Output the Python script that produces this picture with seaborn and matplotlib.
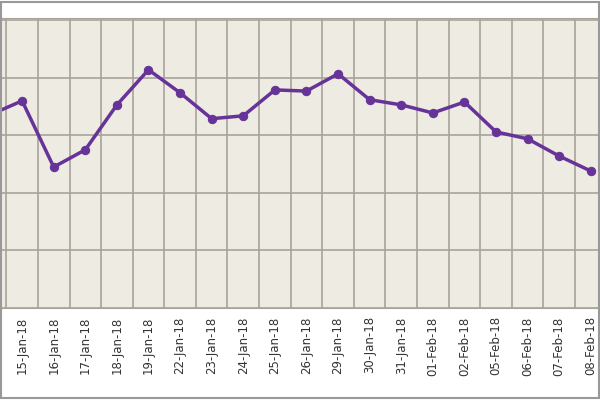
import matplotlib
matplotlib.use("Agg")
import matplotlib.pyplot as plt
import seaborn as sns
import pandas as pd
import numpy as np

dates = ["12-Jan-18","15-Jan-18","16-Jan-18","17-Jan-18","18-Jan-18","19-Jan-18","22-Jan-18",
         "23-Jan-18","24-Jan-18","25-Jan-18","26-Jan-18","29-Jan-18","30-Jan-18","31-Jan-18",
         "01-Feb-18","02-Feb-18","05-Feb-18","06-Feb-18","07-Feb-18","08-Feb-18"]
values = [3.36,3.60,2.45,2.75,3.53,4.14,3.74,3.29,3.34,3.79,3.77,4.07,3.62,3.53,3.39,3.58,
          3.06,2.94,2.64,2.38]

df = pd.DataFrame({"x": np.arange(len(dates)), "v": values})

fig = plt.figure(figsize=(6, 4), dpi=100)
fig.patch.set_facecolor("white")
ax = fig.add_axes([0.0, 0.23, 1.0, 0.725])
ax.set_facecolor("#EEEBE2")
sns.lineplot(data=df, x="x", y="v", ax=ax, color="#663399", linewidth=2.5,
             marker="o", markersize=6, markeredgecolor="#663399")
ax.set_xticks(df["x"])
ax.set_xticklabels(dates, rotation=90, fontsize=8.5, color="#333333")
ax.set_xticks(np.arange(-0.5, len(dates) + 0.5, 1), minor=True)
ax.set_yticks([0, 1, 2, 3, 4, 5])
ax.set_yticklabels([])
ax.set_xlim(0.30, 19.29)
ax.set_ylim(0, 5.04)
ax.tick_params(axis="x", which="both", length=0, pad=6)
ax.tick_params(axis="y", length=0)
ax.grid(False)
ax.grid(True, which="minor", axis="x", color="#A8A49A", linewidth=1.2)
ax.grid(True, which="major", axis="y", color="#A8A49A", linewidth=1.2)
ax.set_axisbelow(True)
ax.set_xlabel("")
ax.set_ylabel("")
for s in ax.spines.values():
    s.set_color("#A8A49A")
fig.add_artist(plt.Rectangle((0.002, 0.004), 0.996, 0.99, transform=fig.transFigure,
                             fill=False, edgecolor="#999999", linewidth=1.5))
fig.savefig("out.png", dpi=100)
